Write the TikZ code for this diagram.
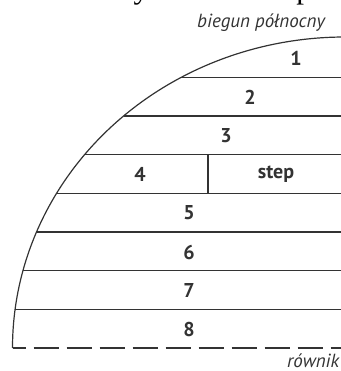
\documentclass[tikz,border=0pt]{standalone}
\usepackage{fontspec}
\setmainfont{PT Sans}
\newfontfamily\labfont{PT Sans Bold}
\newfontfamily\itfont{PT Sans Italic}
\newfontfamily\serfont{Liberation Serif}
\definecolor{ink}{HTML}{333333}
\begin{document}
\begin{tikzpicture}[x=1pt,y=-1pt,
  zone/.style={draw=ink,line width=1.2pt},
  num/.style={text=ink,font=\labfont\fontsize{20}{20}\selectfont,inner sep=0pt},
  note/.style={text=ink,font=\itfont\fontsize{19}{19}\selectfont,inner sep=0pt,anchor=base west}]
\useasboundingbox (0,0) rectangle (340,371);
% clipped heading
\node[anchor=base west,inner sep=0pt,font=\serfont\fontsize{31}{31}\selectfont] (head) at (0,-1.5) {Zrostem wysokości temperatury};
% pole label
\node[note] (pole) at (197,28) {biegun północny};
% quarter ellipse
\draw[zone] (12.5,348) arc[start angle=180,end angle=88,x radius=332.5pt,y radius=311pt];
% zone boundaries
\foreach \yy in {77.3,116,154.7,193.3,232,270.7,309.3}{
  \pgfmathsetmacro{\xx}{345-332.5*sqrt(1-((348-\yy)/311)^2)}
  \draw[zone] (\xx,\yy) -- (341,\yy);
}
% divider in zone 4
\draw[zone] (208,154.7) -- (208,193.3);
% equator
\draw[zone,dash pattern=on 25pt off 8pt,dash phase=12pt] (12.5,348) -- (341,348);
\node[note] (eq) at (287,367) {równik};
% numbers
\node[num] (n1) at (296,58) {1};
\node[num] (n2) at (250,97) {2};
\node[num] (n3) at (226,136) {3};
\node[num] (n4) at (140,174) {4};
\node[num] (st) at (276,174) {step};
\node[num] (n5) at (189,213) {5};
\node[num] (n6) at (189,252) {6};
\node[num] (n7) at (189,290) {7};
\node[num] (n8) at (189,329) {8};
\end{tikzpicture}
\end{document}
